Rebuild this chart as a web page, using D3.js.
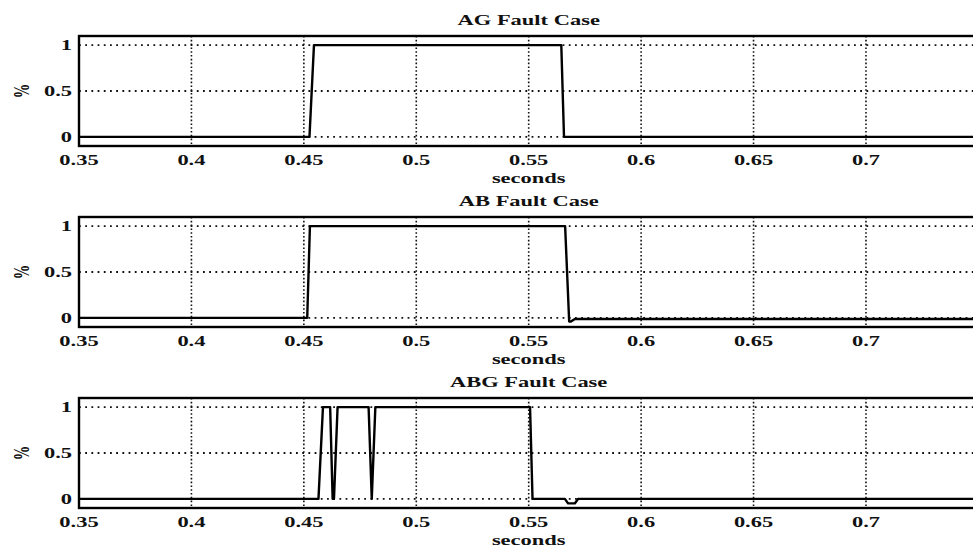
<!DOCTYPE html>
<html>
<head>
<meta charset="utf-8">
<script src="https://cdn.jsdelivr.net/npm/d3@7"></script>
<style>
  html, body { margin: 0; padding: 0; background: #fff; }
  svg { display: block; }
  text { font-family: "Liberation Serif", "DejaVu Serif", serif; font-weight: bold; font-size: 14.5px; fill: #111; }
</style>
</head>
<body>
<svg id="chart" width="973" height="548"></svg>
<script>
// Panel titles
const titles = ["AG Fault Case", "AB Fault Case", "ABG Fault Case"];

// Shared axis ticks
const xTicks = [0.35, 0.4, 0.45, 0.5, 0.55, 0.6, 0.65, 0.7];
const xTickLabels = ["0.35", "0.4", "0.45", "0.5", "0.55", "0.6", "0.65", "0.7"];
const yTicks = [0, 0.5, 1];
const yTickLabels = ["0", "0.5", "1"];
const xGrid = [0.4, 0.45, 0.5, 0.55, 0.6, 0.65, 0.7];

// AG fault: trip signal (seconds, per-unit)
const agTime  = [0.35, 0.4525, 0.4545, 0.5645, 0.5657, 0.76];
const agValue = [0,    0,      1,      1,      0,      0];

// AB fault
const abTime  = [0.35, 0.4515, 0.4527, 0.5662, 0.5680, 0.5688, 0.5705, 0.76];
const abValue = [0,    0,      1,      1,      -0.04,  -0.04,  -0.012, -0.012];

// ABG fault
const abgTime  = [0.35, 0.4565, 0.4585, 0.4617, 0.4628, 0.4634, 0.4650, 0.4788, 0.4802, 0.4818, 0.5506, 0.5517, 0.5661, 0.5675, 0.5705, 0.5720, 0.76];
const abgValue = [0,    0,      1,      1,      0,      0,      1,      1,      0,      1,      1,      0,      0,      -0.05,  -0.05,  0,      0];

const series = [
  { time: agTime, value: agValue },
  { time: abTime, value: abValue },
  { time: abgTime, value: abgValue }
];

const svg = d3.select("#chart");
const panelTops = [36, 217, 398];
const panelHeight = 110;
const stretch = 1.55; // wide glyph rendering used throughout the figure

const x = d3.scaleLinear().domain([0.35, 0.75]).range([79, 978.4]);

function label(g, px, py, str, anchor, rotate, dy) {
  g.append("text")
    .attr("transform", `translate(${px},${py}) scale(${stretch},1)` + (rotate ? ` rotate(${rotate})` : ""))
    .attr("text-anchor", anchor)
    .attr("dy", dy || 0)
    .text(str);
}

series.forEach((s, i) => {
  const top = panelTops[i];
  const bottom = top + panelHeight;
  const y = d3.scaleLinear().domain([-0.1, 1.1]).range([bottom, top]);
  const g = svg.append("g");

  // dotted grid
  g.selectAll(".vgrid").data(xGrid).join("line")
    .attr("x1", d => x(d)).attr("x2", d => x(d))
    .attr("y1", top).attr("y2", bottom)
    .attr("stroke", "#111").attr("stroke-width", 1.6)
    .attr("stroke-dasharray", "1.6,2.2");
  g.selectAll(".hgrid").data(yTicks).join("line")
    .attr("x1", x.range()[0]).attr("x2", x.range()[1])
    .attr("y1", d => y(d)).attr("y2", d => y(d))
    .attr("stroke", "#111").attr("stroke-width", 1.8)
    .attr("stroke-dasharray", "1.8,4.4");

  // signal trace
  const pts = s.time.map((t, k) => [t, s.value[k]]);
  g.append("path")
    .datum(pts)
    .attr("fill", "none")
    .attr("stroke", "#000")
    .attr("stroke-width", 2.4)
    .attr("stroke-linejoin", "round")
    .attr("d", d3.line().x(d => x(d[0])).y(d => y(d[1])));

  // axes frame
  g.append("rect")
    .attr("x", x.range()[0]).attr("y", top)
    .attr("width", x.range()[1] - x.range()[0]).attr("height", panelHeight)
    .attr("fill", "none").attr("stroke", "#000").attr("stroke-width", 2.4);

  // x tick labels
  xTicks.forEach((t, k) => label(g, x(t), bottom + 19, xTickLabels[k], "middle"));
  // y tick labels
  yTicks.forEach((t, k) => label(g, 72, y(t), yTickLabels[k], "end", 0, "0.35em"));

  // titles and axis labels
  label(g, (x.range()[0] + x.range()[1]) / 2, top - 11, titles[i], "middle");
  label(g, (x.range()[0] + x.range()[1]) / 2, bottom + 37, "seconds", "middle");
  label(g, 21, y(0.5), "%", "middle", -90, "0.35em");
});
</script>
</body>
</html>
